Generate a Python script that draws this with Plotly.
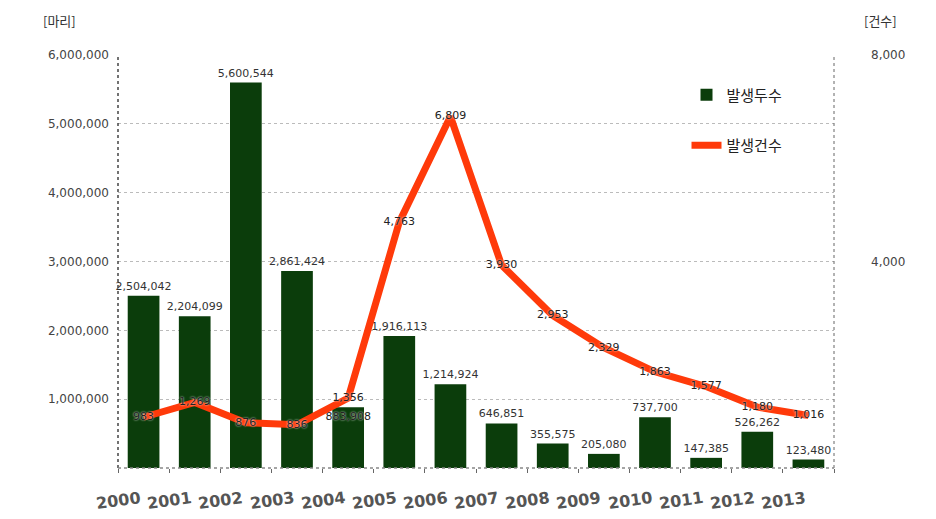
import plotly.graph_objects as go

years = ['2000', '2001', '2002', '2003', '2004', '2005', '2006',
         '2007', '2008', '2009', '2010', '2011', '2012', '2013']
heads = [2504042, 2204099, 5600544, 2861424, 883908, 1916113, 1214924,
         646851, 355575, 205080, 737700, 147385, 526262, 123480]
cases = [983, 1269, 876, 836, 1356, 4763, 6809,
         3930, 2953, 2329, 1863, 1577, 1180, 1016]

left_ticks = [1000000, 2000000, 3000000, 4000000, 5000000, 6000000]
right_ticks = [4000, 8000]

font = 'DejaVu Sans, Noto Sans CJK KR, sans-serif'
kfont = 'Noto Sans CJK KR, DejaVu Sans, sans-serif'
halo = '0px 0px 2px #ffffff'

fig = go.Figure()

# 2004 bar label sits just inside the bar top, under the line label
bar_pos = ['inside' if yr == '2004' else 'outside' for yr in years]
fig.add_trace(go.Bar(
    x=years, y=heads, name='발생두수',
    marker=dict(color='#0b3d0b', line=dict(color='#0b3d0b', width=0)),
    text=[f'{v:,}' for v in heads], textposition=bar_pos,
    insidetextanchor='end', textangle=0,
    textfont=dict(size=11, color='#333333', family=font),
    insidetextfont=dict(size=11, color='#222222', family=font, shadow=halo),
    outsidetextfont=dict(size=11, color='#333333', family=font),
    constraintext='none', cliponaxis=False, legendgroup='a',
))

fig.add_trace(go.Scatter(
    x=years, y=cases, name='발생건수', yaxis='y2',
    mode='lines+text', line=dict(color='#ff3a0a', width=7),
    text=[f'{v:,}' for v in cases], textposition='middle center',
    textfont=dict(size=11, color='#222222', family=font, shadow=halo),
    cliponaxis=False, legendgroup='b',
))

# year labels, tilted and nudged left like the original
for i, yr in enumerate(years):
    fig.add_annotation(x=i, y=0, yref='paper', yanchor='middle', yshift=-32,
                       xshift=-25, text='<b>' + yr + '</b>', showarrow=False,
                       textangle=-8, font=dict(size=16, color='#555555', family=font))

fig.add_annotation(x=0.0, xref='paper', xshift=-77, y=1.0, yref='paper', yshift=46,
                   text='[마리]', showarrow=False, font=dict(size=13, color='#333333', family=kfont))
fig.add_annotation(x=1.0, xref='paper', xshift=65, y=1.0, yref='paper', yshift=46,
                   text='[건수]', showarrow=False, font=dict(size=13, color='#333333', family=kfont))

# dotted frame lines
fig.add_shape(type='line', xref='paper', yref='paper', x0=0, x1=0, y0=0, y1=1,
              line=dict(color='#444444', width=1.5, dash='dot'))
fig.add_shape(type='line', xref='paper', yref='paper', x0=1, x1=1, y0=0, y1=1,
              line=dict(color='#666666', width=1, dash='dot'))
fig.add_shape(type='line', xref='paper', yref='paper', x0=0, x1=1, y0=0, y1=0,
              line=dict(color='#888888', width=1.5, dash='dot'))

fig.update_layout(
    width=936, height=519,
    margin=dict(l=110, r=110, t=47, b=59),
    plot_bgcolor='white', paper_bgcolor='white',
    bargap=0.38,
    font=dict(family=font, size=12, color='#333333'),
    xaxis=dict(type='category', range=[-0.5, len(years) - 0.5], automargin=False,
               showticklabels=False, showgrid=False, zeroline=False,
               ticks='outside', tickson='boundaries', ticklen=4, tickcolor='#666666'),
    yaxis=dict(range=[0, 6000000], tickvals=left_ticks, automargin=False,
               ticktext=[f'{v:,}' for v in left_ticks], ticklabelstandoff=8,
               showgrid=True, gridcolor='#bbbbbb', griddash='dot', gridwidth=1,
               zeroline=False, tickfont=dict(size=12, color='#444444')),
    yaxis2=dict(range=[0, 8000], overlaying='y', side='right', automargin=False,
                tickvals=right_ticks, ticktext=[f'{v:,}' for v in right_ticks],
                showgrid=False, zeroline=False, ticklabelstandoff=36,
                tickfont=dict(size=12, color='#444444')),
    legend=dict(x=0.794, y=0.943, xanchor='left', yanchor='top',
                bgcolor='rgba(0,0,0,0)', tracegroupgap=28,
                font=dict(size=15, color='#222222', family=kfont)),
    showlegend=True,
)

fig.write_html('out.html')
